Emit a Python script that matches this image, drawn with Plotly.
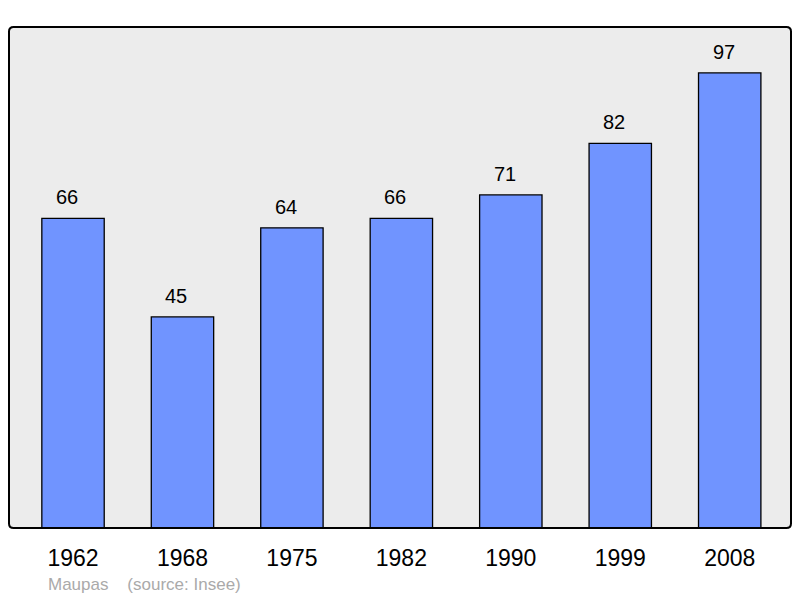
import plotly.graph_objects as go

# Population de Maupas (source : Insee)
annees = ["1962", "1968", "1975", "1982", "1990", "1999", "2008"]
population = [66, 45, 64, 66, 71, 82, 97]

positions = list(range(len(annees)))

fig = go.Figure()

fig.add_trace(go.Bar(
    x=positions,
    y=population,
    width=0.57,
    marker=dict(color="#7094ff", line=dict(color="#000000", width=1.3)),
    hoverinfo="skip",
))

# étiquettes au-dessus des barres
for p, v in zip(positions, population):
    fig.add_annotation(x=p, y=v, text=str(v), showarrow=False,
                       yanchor="bottom", yshift=8, xshift=-6,
                       font=dict(family="Liberation Sans, Arial", size=20, color="#000000"))

# cadre arrondi de la zone de tracé
rx, ry = 0.006, 0.009
cadre = (f"M {rx},0 L {1-rx},0 Q 1,0 1,{ry} L 1,{1-ry} Q 1,1 {1-rx},1 "
         f"L {rx},1 Q 0,1 0,{1-ry} L 0,{ry} Q 0,0 {rx},0 Z")
fig.add_shape(type="path", xref="paper", yref="paper", path=cadre,
              line=dict(color="#000000", width=2), layer="above")

fig.add_annotation(xref="paper", yref="paper", x=0.047, y=-0.112, xanchor="left", yanchor="middle",
                   text="Maupas&nbsp;&nbsp;&nbsp;&nbsp;(source: Insee)", showarrow=False,
                   font=dict(family="Liberation Sans, Arial", size=17, color="#aaaaaa"))

fig.update_layout(
    width=800, height=598,
    margin=dict(l=9, r=9, t=27, b=70),
    paper_bgcolor="#ffffff",
    plot_bgcolor="#ececec",
    showlegend=False,
    xaxis=dict(range=[-0.585, 6.56], tickvals=positions, ticktext=annees,
               showgrid=False, zeroline=False, ticks="outside", ticklen=9,
               tickcolor="rgba(0,0,0,0)",
               tickfont=dict(family="Liberation Sans, Arial", size=23, color="#000000"),
               fixedrange=True),
    yaxis=dict(range=[0, 106.8], showgrid=False, zeroline=False, showticklabels=False,
               fixedrange=True),
)

fig.write_html("out.html", config={"displayModeBar": False},
               post_script="document.body.style.margin='0';")
